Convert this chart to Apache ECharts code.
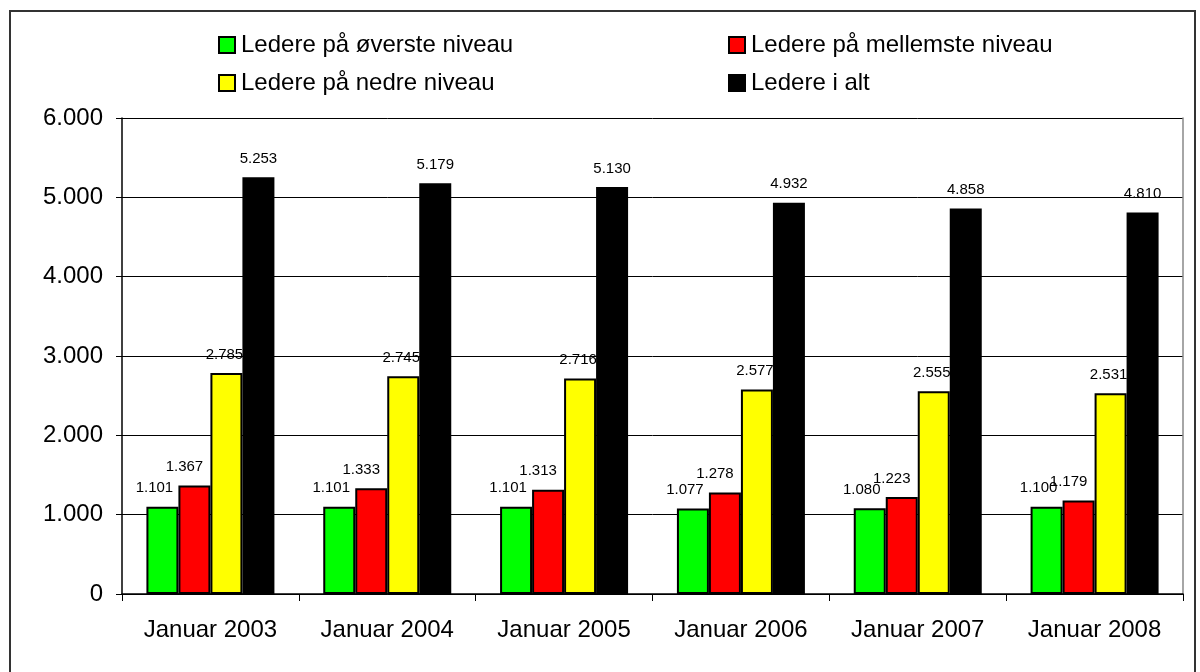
<!DOCTYPE html>
<html>
<head>
<meta charset="utf-8">
<script src="https://cdn.jsdelivr.net/npm/echarts@6/dist/echarts.min.js"></script>
<style>
  html, body { margin: 0; padding: 0; background: #fff; }
  #chart { width: 1200px; height: 672px; }
</style>
</head>
<body>
<div id="chart"></div>
<script>
const categories = ['Januar 2003', 'Januar 2004', 'Januar 2005', 'Januar 2006', 'Januar 2007', 'Januar 2008']
const seriesNames = ['Ledere på øverste niveau', 'Ledere på mellemste niveau', 'Ledere på nedre niveau', 'Ledere i alt']
const topLevel = [1101, 1101, 1101, 1077, 1080, 1100]
const midLevel = [1367, 1333, 1313, 1278, 1223, 1179]
const lowLevel = [2785, 2745, 2716, 2577, 2555, 2531]
const total = [5253, 5179, 5130, 4932, 4858, 4810]

const fmt = v => String(v).replace(/\B(?=(\d{3})+(?!\d))/g, '.')
const font = 'Arial, "Liberation Sans", sans-serif'

const chart = echarts.init(document.getElementById('chart'))

const makeSeries = (name, data, color, offsetX) => ({
  name,
  type: 'bar',
  data,
  barWidth: 32,
  barGap: '0%',
  itemStyle: { color, borderColor: '#000', borderWidth: 2 },
  label: {
    show: true,
    position: 'top',
    distance: 11,
    offset: [offsetX, 0],
    color: '#000',
    fontFamily: font,
    fontSize: 15,
    formatter: p => fmt(p.value)
  }
})

const legendBase = {
  orient: 'vertical',
  itemWidth: 16,
  itemHeight: 16,
  itemGap: 14,
  icon: 'rect',
  textStyle: { fontFamily: font, fontSize: 24, color: '#000', padding: [0, 0, 0, 1] },
  itemStyle: { borderColor: '#000', borderWidth: 2 },
  top: 28
}

chart.setOption({
  animation: false,
  backgroundColor: '#fff',
  graphic: [{
    type: 'rect',
    shape: { x: 10, y: 11, width: 1185, height: 680 },
    style: { fill: 'none', stroke: '#333', lineWidth: 2 },
    silent: true
  }],
  legend: [
    Object.assign({}, legendBase, { left: 213, data: [seriesNames[0], seriesNames[2]] }),
    Object.assign({}, legendBase, { left: 723, data: [seriesNames[1], seriesNames[3]] })
  ],
  grid: { left: 122, right: 17, top: 118, bottom: 78 },
  xAxis: {
    type: 'category',
    data: categories,
    axisLine: { lineStyle: { color: '#000', width: 1.5 } },
    axisTick: { show: true, length: 7, lineStyle: { color: '#000' } },
    axisLabel: { color: '#000', fontFamily: font, fontSize: 24, margin: 24 }
  },
  yAxis: [{
    type: 'value',
    min: 0,
    max: 6000,
    interval: 1000,
    axisLine: { show: true, lineStyle: { color: '#000', width: 1.5 } },
    axisTick: { show: true, length: 6, lineStyle: { color: '#000' } },
    splitLine: { lineStyle: { color: '#000', width: 1 } },
    axisLabel: { color: '#000', fontFamily: font, fontSize: 24, margin: 19, formatter: v => fmt(v) }
  }, {
    type: 'value',
    position: 'right',
    min: 0,
    max: 6000,
    interval: 1000,
    axisLine: { show: true, lineStyle: { color: '#888', width: 1.5 } },
    axisTick: { show: false },
    splitLine: { show: false },
    axisLabel: { show: false }
  }],
  series: [
    makeSeries(seriesNames[0], topLevel, '#00ff00', -8),
    makeSeries(seriesNames[1], midLevel, '#ff0000', -10),
    makeSeries(seriesNames[2], lowLevel, '#ffff00', -2),
    makeSeries(seriesNames[3], total, '#000000', 0)
  ]
})
</script>
</body>
</html>
